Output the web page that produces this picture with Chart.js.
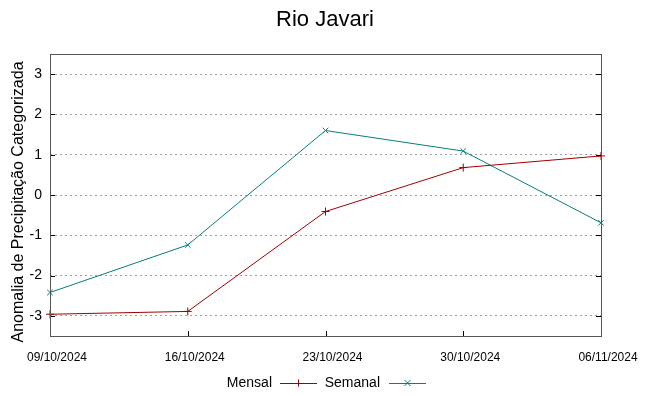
<!DOCTYPE html>
<html>
<head>
<meta charset="utf-8">
<script src="https://cdn.jsdelivr.net/npm/chart.js@4.4.1/dist/chart.umd.min.js"></script>
<style>
  html, body { margin: 0; padding: 0; background: #fff; }
  #wrap { width: 649px; height: 396px; }
</style>
</head>
<body>
<div id="wrap"><canvas id="chart" width="649" height="396"></canvas></div>
<script>
const labels = ['09/10/2024', '16/10/2024', '23/10/2024', '30/10/2024', '06/11/2024'];
const mensal = [-2.96, -2.89, -0.41, 0.68, 0.97];
const semanal = [-2.42, -1.24, 1.60, 1.09, -0.69];
const yTicks = [-3, -2, -1, 0, 1, 2, 3];

const FONT = "'Liberation Sans', Arial, sans-serif";
const RED = '#a00000';
const TEAL = '#00807f';

// frame, inward ticks, titles and gnuplot-like legend
const extras = {
    id: 'extras',
    afterDraw(chart) {
        const ctx = chart.ctx;
        const a = chart.chartArea;
        const x = chart.scales.x;
        const y = chart.scales.y;
        ctx.save();
        ctx.strokeStyle = '#000';
        ctx.lineWidth = 1;
        ctx.beginPath();
        yTicks.forEach(v => {
            const py = Math.round(y.getPixelForValue(v)) + 0.5;
            ctx.moveTo(a.left, py); ctx.lineTo(a.left + 5, py);
            ctx.moveTo(a.right, py); ctx.lineTo(a.right - 5, py);
        });
        labels.forEach((l, i) => {
            const px = Math.round(x.getPixelForValue(i)) + 0.5;
            ctx.moveTo(px, a.bottom); ctx.lineTo(px, a.bottom - 5);
        });
        ctx.stroke();

        ctx.strokeStyle = '#555';
        ctx.strokeRect(Math.round(a.left) + 0.5, Math.round(a.top) + 0.5,
            Math.round(a.right - a.left), Math.round(a.bottom - a.top));

        ctx.fillStyle = '#000';
        ctx.font = '22px ' + FONT;
        ctx.textAlign = 'center';
        ctx.textBaseline = 'middle';
        ctx.fillText('Rio Javari', 325, 20);

        // y axis title
        ctx.save();
        ctx.translate(19, 202);
        ctx.rotate(-Math.PI / 2);
        ctx.font = '16px ' + FONT;
        ctx.fillText('Anomalia de Precipitação Categorizada', 0, 0);
        ctx.restore();

        ctx.font = '14px ' + FONT;
        ctx.textAlign = 'right';
        const items = [
            { text: 'Mensal', end: 272, x0: 280, x1: 317, color: RED, cross: true },
            { text: 'Semanal', end: 380, x0: 389, x1: 426, color: TEAL, cross: false }
        ];
        const ly = 383;
        items.forEach(it => {
            ctx.fillStyle = '#000';
            ctx.fillText(it.text, it.end, ly);
            ctx.strokeStyle = it.color;
            ctx.beginPath();
            ctx.moveTo(it.x0, ly + 0.5); ctx.lineTo(it.x1, ly + 0.5);
            const cx = (it.x0 + it.x1) / 2;
            if (it.cross) {
                ctx.moveTo(cx, ly - 3.5); ctx.lineTo(cx, ly + 3.5);
            } else {
                ctx.moveTo(cx - 3, ly - 3); ctx.lineTo(cx + 3, ly + 3);
                ctx.moveTo(cx - 3, ly + 3); ctx.lineTo(cx + 3, ly - 3);
            }
            ctx.stroke();
        });
        ctx.restore();
    }
};

new Chart(document.getElementById('chart'), {
    type: 'line',
    data: {
        labels: labels,
        datasets: [{
            label: 'Mensal',
            data: mensal,
            borderColor: RED,
            backgroundColor: RED,
            borderWidth: 1,
            pointStyle: 'cross',
            pointRadius: 4,
            pointBorderWidth: 1,
            fill: false,
            tension: 0
        }, {
            label: 'Semanal',
            data: semanal,
            borderColor: TEAL,
            backgroundColor: TEAL,
            borderWidth: 1,
            pointStyle: 'crossRot',
            pointRadius: 4,
            pointBorderWidth: 1,
            fill: false,
            tension: 0
        }]
    },
    options: {
        responsive: false,
        animation: false,
        layout: { padding: { left: 0, right: 48, top: 54, bottom: 20 } },
        plugins: {
            legend: { display: false },
            title: { display: false },
            tooltip: { enabled: false }
        },
        scales: {
            x: {
                offset: false,
                afterFit: s => { s.height = 40; },
                grid: { display: false, drawTicks: false },
                border: { display: false },
                ticks: {
                    color: '#000',
                    font: { family: FONT, size: 12 },
                    padding: 14,
                    labelOffset: 7,
                    maxRotation: 0,
                    autoSkip: false
                }
            },
            y: {
                min: -3.5,
                max: 3.5,
                afterFit: s => { s.width = 50; },
                afterBuildTicks: s => { s.ticks = yTicks.map(v => ({ value: v })); },
                grid: { color: '#a0a0a0', lineWidth: 1, drawTicks: false },
                border: { display: false, dash: [2, 3] },
                ticks: {
                    color: '#000',
                    font: { family: FONT, size: 14 },
                    padding: 8
                }
            }
        }
    },
    plugins: [extras]
});
</script>
</body>
</html>
